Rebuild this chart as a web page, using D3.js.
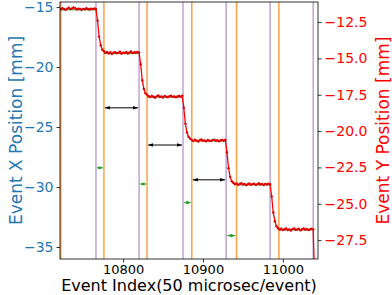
<!DOCTYPE html>
<html>
<head>
<meta charset="utf-8">
<script src="https://cdn.jsdelivr.net/npm/d3@7"></script>
<style>
  body { margin: 0; background: #fff; }
  svg { font-family: "DejaVu Sans", sans-serif; }
</style>
</head>
<body>
<svg width="392" height="295"></svg>
<script>
// event index of first sample, samples every 2 events
const firstEvent = 10722;
const eventStep = 2;

// Y position [mm] (right axis)
const yPos = [
  // plateau 1
  -11.62, -11.55, -11.60, -11.66, -11.58, -11.52, -11.61, -11.57, -11.49, -11.55, -11.63, -11.58,
  -11.60, -11.66, -11.59, -11.62, -11.55, -11.60, -11.64, -11.58, -11.61, -11.57, -11.60,
  // step 1
  -12.40, -13.50, -14.10, -14.40, -14.50,
  // plateau 2
  -14.62, -14.55, -14.66, -14.58, -14.70, -14.60, -14.57, -14.65, -14.61, -14.54, -14.68,
  -14.60, -14.63, -14.56, -14.66, -14.59, -14.52, -14.64, -14.58, -14.61, -14.55, -14.60,
  // step 2
  -15.40, -16.50, -17.10, -17.40, -17.50,
  // plateau 3
  -17.60, -17.66, -17.58, -17.64, -17.70, -17.61, -17.55, -17.66, -17.62, -17.69, -17.58,
  -17.63, -17.67, -17.60, -17.57, -17.65, -17.61, -17.68, -17.62, -17.59, -17.64, -17.56,
  // step 3
  -18.40, -19.50, -20.10, -20.40, -20.52,
  // plateau 4
  -20.62, -20.68, -20.60, -20.66, -20.72, -20.63, -20.58, -20.67, -20.64, -20.70, -20.61,
  -20.66, -20.69, -20.62, -20.59, -20.67, -20.63, -20.70, -20.64, -20.61, -20.66, -20.60,
  // step 4
  -21.45, -22.55, -23.15, -23.45, -23.55,
  // plateau 5
  -23.66, -23.61, -23.70, -23.64, -23.58, -23.68, -23.63, -23.72, -23.66, -23.60, -23.69, -23.65,
  -23.62, -23.70, -23.66, -23.59, -23.67, -23.64, -23.71, -23.63, -23.68, -23.62, -23.66,
  // step 5
  -24.50, -25.60, -26.20, -26.55, -26.68,
  // plateau 6
  -26.78, -26.72, -26.81, -26.75, -26.70, -26.80, -26.76, -26.84, -26.74, -26.70, -26.79,
  -26.77, -26.72, -26.82, -26.75, -26.69, -26.78, -26.74, -26.81, -26.76, -26.72, -26.76,
  // final drop
  -31.0, -31.5, -31.5
];

// fitted plateau levels (green) and interval markers
const fitLevels = [-11.66, -14.66, -17.66, -20.68, -23.70, -26.80];
const purpleLines = [10766, 10820, 10875, 10929, 10984, 11038];
const orangeLines = [10722, 10776, 10830, 10886, 10942, 10995];

// black arrows: orange line i -> purple line i, at left-axis height
const gapArrowY = [-23.4, -26.5, -29.4];
const gapArrowFrom = [1, 2, 3];
// green arrows between purple and orange of each step
const stepArrowY = [-28.4, -29.75, -31.3, -34.05];

const xTicks = [10800, 10900, 11000];
const leftTicks = [-15, -20, -25, -30, -35];
const rightTicks = [-12.5, -15, -17.5, -20, -22.5, -25, -27.5];

const svg = d3.select("svg");
const margin = { left: 60, right: 74, top: 2, bottom: 36 };
const W = 392, H = 295;
const iw = W - margin.left - margin.right;
const ih = H - margin.top - margin.bottom;

const x = d3.scaleLinear().domain([10721, 11044]).range([0, iw]);
const yL = d3.scaleLinear().domain([-36, -14.58]).range([ih, 0]);
const yR = d3.scaleLinear().domain([-28.8, -11.12]).range([ih, 0]);

const defs = svg.append("defs");
defs.append("clipPath").attr("id", "clip")
  .append("rect").attr("width", iw).attr("height", ih);
function head(id, color, size) {
  defs.append("marker").attr("id", id)
    .attr("viewBox", "0 0 10 10").attr("refX", 10).attr("refY", 5)
    .attr("markerWidth", size).attr("markerHeight", size)
    .attr("orient", "auto-start-reverse")
    .append("path").attr("d", "M0,1.5L10,5L0,8.5Z").attr("fill", color);
}
head("hk", "#000", 5);
head("hg", "#2ca02c", 4.5);

const g = svg.append("g").attr("transform", `translate(${margin.left},${margin.top})`);
const plot = g.append("g").attr("clip-path", "url(#clip)");

// vertical markers
plot.selectAll(".purple").data(purpleLines).enter().append("line")
  .attr("x1", d => x(d)).attr("x2", d => x(d)).attr("y1", 0).attr("y2", ih)
  .attr("stroke", "#9467bd").attr("stroke-opacity", 0.6).attr("stroke-width", 1.5);
plot.selectAll(".orange").data(orangeLines).enter().append("line")
  .attr("x1", d => x(d)).attr("x2", d => x(d)).attr("y1", 0).attr("y2", ih)
  .attr("stroke", "#ff7f0e").attr("stroke-opacity", 0.75).attr("stroke-width", 1.5);

// green fit segments
plot.selectAll(".fit").data(fitLevels).enter().append("line")
  .attr("x1", (d, i) => x(orangeLines[i])).attr("x2", (d, i) => x(purpleLines[i]))
  .attr("y1", d => yR(d)).attr("y2", d => yR(d))
  .attr("stroke", "#2ca02c").attr("stroke-width", 1);

// red trace
const pts = yPos.map((v, i) => [firstEvent + i * eventStep, v]);
plot.append("path").datum(pts)
  .attr("fill", "none").attr("stroke", "#ff0000").attr("stroke-width", 1.3)
  .attr("d", d3.line().x(d => x(d[0])).y(d => yR(d[1])));
plot.selectAll(".dot").data(pts).enter().append("circle")
  .attr("cx", d => x(d[0])).attr("cy", d => yR(d[1])).attr("r", 1.2)
  .attr("fill", "#e00000");

// black gap arrows
g.selectAll(".gap").data(gapArrowY).enter().append("line")
  .attr("x1", (d, i) => x(orangeLines[gapArrowFrom[i]]) + 1)
  .attr("x2", (d, i) => x(purpleLines[gapArrowFrom[i]]) - 1)
  .attr("y1", d => yL(d)).attr("y2", d => yL(d))
  .attr("stroke", "#000").attr("stroke-width", 1)
  .attr("marker-start", "url(#hk)").attr("marker-end", "url(#hk)");

// green step arrows
g.selectAll(".stp").data(stepArrowY).enter().append("line")
  .attr("x1", (d, i) => x(purpleLines[i]) + 1)
  .attr("x2", (d, i) => x(orangeLines[i + 1]) - 1)
  .attr("y1", d => yL(d)).attr("y2", d => yL(d))
  .attr("stroke", "#2ca02c").attr("stroke-width", 1)
  .attr("marker-start", "url(#hg)").attr("marker-end", "url(#hg)");

// axes
const fontSize = 13;
const xAxis = g.append("g").attr("transform", `translate(0,${ih})`)
  .call(d3.axisBottom(x).tickValues(xTicks).tickFormat(d3.format("d")).tickSize(3.5).tickPadding(2));
const lAxis = g.append("g")
  .call(d3.axisLeft(yL).tickValues(leftTicks).tickSize(3.5).tickPadding(3));
const rAxis = g.append("g").attr("transform", `translate(${iw},0)`)
  .call(d3.axisRight(yR).tickValues(rightTicks).tickFormat(d3.format(".1f")).tickSize(3.5).tickPadding(3));

[xAxis, lAxis, rAxis].forEach(a => {
  a.select(".domain").remove();
  a.selectAll("text").attr("font-size", fontSize).attr("font-family", "DejaVu Sans");
  a.selectAll("line").attr("stroke", "#000").attr("stroke-width", 0.8);
});
lAxis.selectAll("text").attr("font-size", 14);
rAxis.selectAll("text").attr("font-size", 14);
xAxis.selectAll("text").attr("fill", "#000");
lAxis.selectAll("text").attr("fill", "#1f77b4");
rAxis.selectAll("text").attr("fill", "#ff0000");

// frame
g.append("rect").attr("width", iw).attr("height", ih)
  .attr("fill", "none").attr("stroke", "#000").attr("stroke-width", 0.8);

// labels
svg.append("text")
  .attr("transform", `translate(22,${margin.top + ih / 2}) rotate(-90)`)
  .attr("text-anchor", "middle").attr("font-size", 17).attr("fill", "#1f77b4")
  .text("Event X Position [mm]");
svg.append("text")
  .attr("transform", `translate(389,${margin.top + ih / 2}) rotate(-90)`)
  .attr("text-anchor", "middle").attr("font-size", 17).attr("fill", "#ff0000")
  .text("Event Y Position [mm]");
svg.append("text")
  .attr("x", margin.left + iw / 2).attr("y", 291)
  .attr("text-anchor", "middle").attr("font-size", 16).attr("fill", "#000")
  .text("Event Index(50 microsec/event)");
</script>
</body>
</html>
